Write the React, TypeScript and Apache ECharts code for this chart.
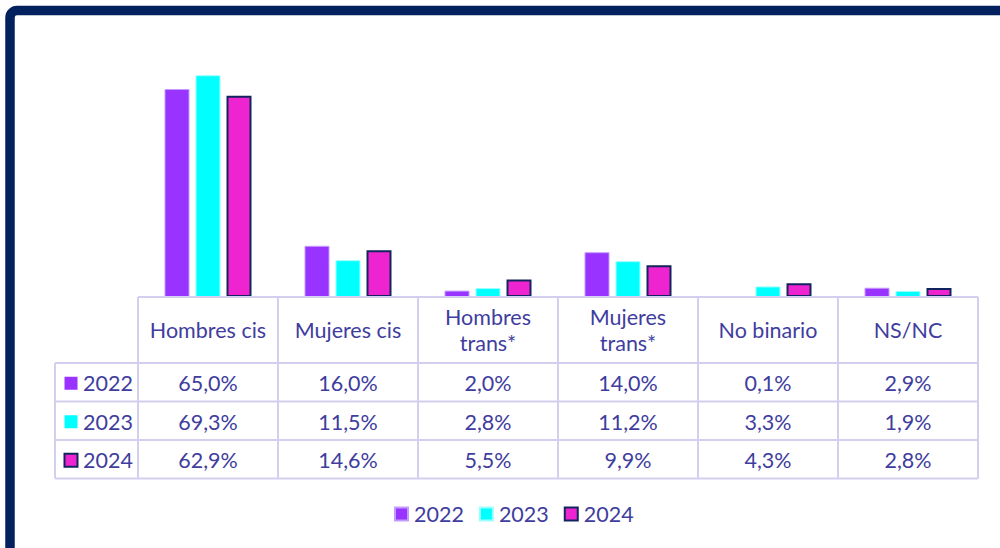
import React, { useEffect, useRef } from "react";
import * as echarts from "echarts";

const categories = ["Hombres cis", "Mujeres cis", "Hombres trans*", "Mujeres trans*", "No binario", "NS/NC"];
const headerLabels = ["Hombres cis", "Mujeres cis", "Hombres\ntrans*", "Mujeres\ntrans*", "No binario", "NS/NC"];
const years = ["2022", "2023", "2024"];
const v2022 = [65.0, 16.0, 2.0, 14.0, 0.1, 2.9];
const v2023 = [69.3, 11.5, 2.8, 11.2, 3.3, 1.9];
const v2024 = [62.9, 14.6, 5.5, 9.9, 4.3, 2.8];
const seriesValues = [v2022, v2023, v2024];

const colors = ["#9933FF", "#00FFFF", "#EE24D0"];
const borderColors = ["#C49BFF", "#9CFFFF", "#12245E"];
const borderWidths = [1, 1, 2];
const TEXT = "#403D9E";
const LINE = "#D3CFEE";
const FONT = "Lato";
const FS = 21.5;

const fmt = (v: number) => v.toFixed(1).replace(".", ",") + "%";

export default function App() {
  const ref = useRef<HTMLDivElement>(null);
  useEffect(() => {
    document.body.style.margin = "0";
    const chart = echarts.init(ref.current!, undefined, { renderer: "svg" });
    const gridLeft = 138, gridTop = 73, gridW = 840, gridH = 224;
    chart.setOption({
      animation: false,
      textStyle: { fontFamily: FONT },
      grid: { left: gridLeft, top: gridTop, width: gridW, height: gridH, containLabel: false },
      xAxis: {
        type: "category",
        data: categories,
        axisLine: { show: false },
        axisTick: { show: false },
        axisLabel: { show: false },
      },
      yAxis: { type: "value", min: 0, max: 70, show: false, splitLine: { show: false } },
      legend: {
        left: 394,
        top: 503,
        padding: 0,
        icon: "rect",
        itemWidth: 13,
        itemHeight: 13,
        itemGap: 15,
        textStyle: { color: TEXT, fontSize: FS, fontFamily: FONT, padding: [0, 0, 0, 1] },
        data: years,
      },
      series: years.map((y, i) => ({
        name: y,
        type: "bar",
        data: seriesValues[i],
        barWidth: 25,
        barGap: "24%",
        itemStyle: { color: colors[i], borderColor: borderColors[i], borderWidth: borderWidths[i] },
      })),
    });

    const baseY = gridTop + gridH; // 297
    const rowBounds = [baseY, 363, 401.5, 440, 478.5];
    const labelLeft = 55;
    const colW = gridW / categories.length;
    const centers = categories.map((_, i) => chart.convertToPixel({ xAxisIndex: 0 }, i) as number);
    const g: any[] = [];
    g.push({
      type: "rect",
      shape: { x: 10, y: 10.5, width: 1200, height: 1000, r: 7 },
      style: { fill: "none", stroke: "#03215E", lineWidth: 9.5 },
      z: 10,
    });
    const line = (x1: number, y1: number, x2: number, y2: number) =>
      g.push({ type: "line", shape: { x1, y1, x2, y2 }, style: { stroke: LINE, lineWidth: 2 }, z: 5 });
    line(gridLeft, rowBounds[0], gridLeft + gridW, rowBounds[0]);
    for (let r = 1; r < rowBounds.length; r++) line(labelLeft, rowBounds[r], gridLeft + gridW, rowBounds[r]);
    line(labelLeft, rowBounds[1], labelLeft, rowBounds[4]);
    for (let c = 0; c <= categories.length; c++) {
      const x = centers[0] - colW / 2 + c * colW;
      line(x, rowBounds[0], x, rowBounds[4]);
    }
    headerLabels.forEach((t, i) => {
      g.push({
        type: "text",
        z: 6,
        style: {
          text: t,
          x: centers[i],
          y: (rowBounds[0] + rowBounds[1]) / 2,
          align: "center",
          verticalAlign: "middle",
          fill: TEXT,
          fontSize: FS,
          fontFamily: FONT,
          lineHeight: 26,
        },
      });
    });
    years.forEach((y, r) => {
      const cy = (rowBounds[r + 1] + rowBounds[r + 2]) / 2 + 1;
      g.push({
        type: "rect",
        z: 6,
        shape: { x: 64.5, y: cy - 6.5, width: 13, height: 13 },
        style: { fill: colors[r], stroke: r === 2 ? borderColors[r] : null, lineWidth: r === 2 ? 2 : 0 },
      });
      g.push({
        type: "text",
        z: 6,
        style: { text: y, x: 83, y: cy, align: "left", verticalAlign: "middle", fill: TEXT, fontSize: FS, fontFamily: FONT },
      });
      seriesValues[r].forEach((v, i) => {
        g.push({
          type: "text",
          z: 6,
          style: { text: fmt(v), x: centers[i], y: cy, align: "center", verticalAlign: "middle", fill: TEXT, fontSize: FS, fontFamily: FONT },
        });
      });
    });
    chart.setOption({ graphic: g });
    return () => chart.dispose();
  }, []);
  return <div ref={ref} style={{ position: "absolute", left: 0, top: 0, width: 1000, height: 548 }} />;
}
